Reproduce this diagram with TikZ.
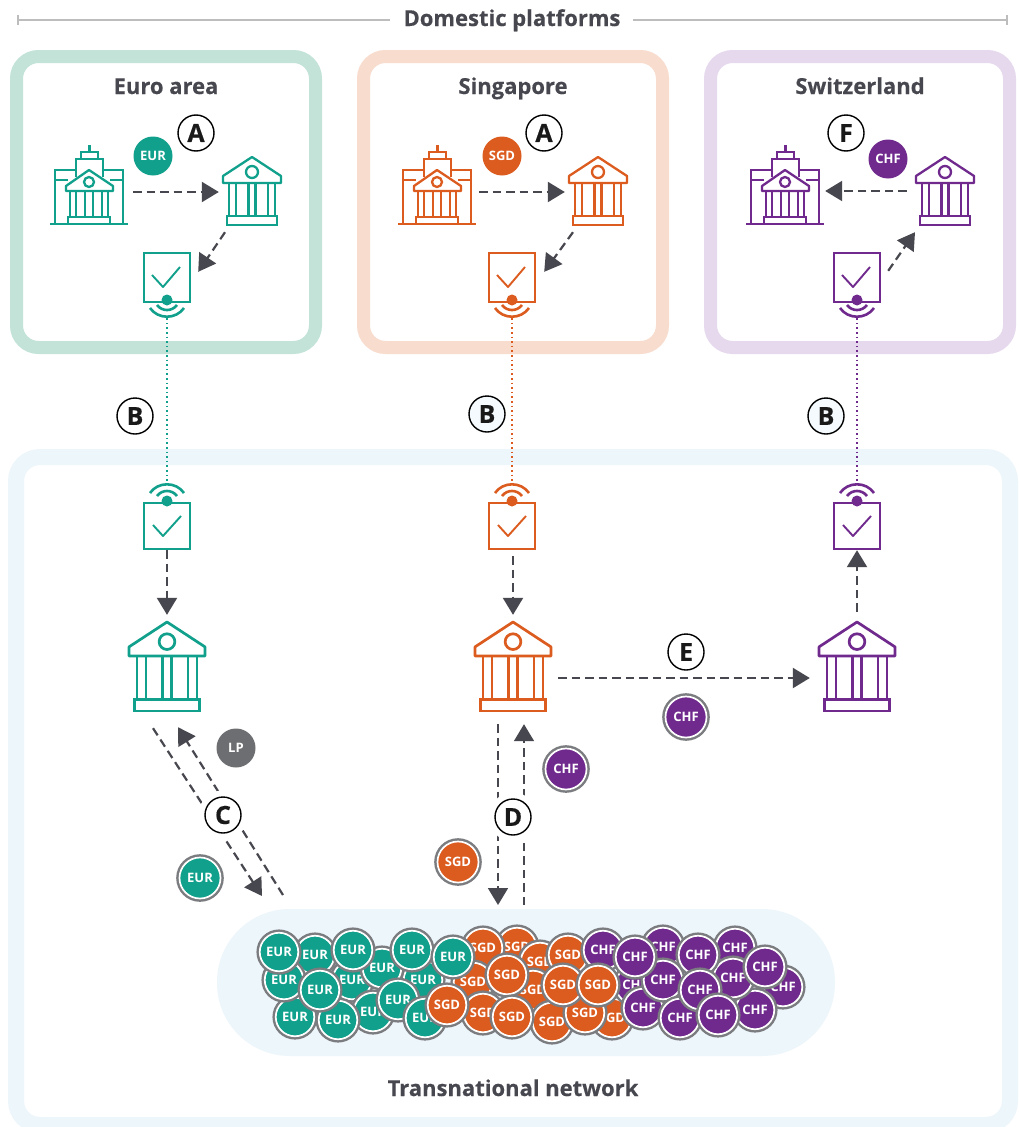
\documentclass[tikz,border=0pt]{standalone}
\usepackage{fontspec}
\setmainfont{Open Sans}
\newfontfamily\heavy{Open Sans}[BoldFeatures={FakeBold=0.35}]
\usetikzlibrary{arrows.meta,calc}
\definecolor{eurc}{HTML}{10A08B}
\definecolor{sgdc}{HTML}{DC5B1E}
\definecolor{chfc}{HTML}{702A8E}
\definecolor{lpc}{HTML}{6D6E71}
\definecolor{ink}{HTML}{47474F}
\definecolor{ringc}{HTML}{7B7C7F}
\definecolor{frameE}{HTML}{C3E3D9}
\definecolor{frameS}{HTML}{F8DCCE}
\definecolor{frameC}{HTML}{E6D9EE}
\definecolor{frameT}{HTML}{EDF6FB}
\definecolor{ruleg}{HTML}{BDBDBD}
\tikzset{
  x=1pt,y=-1pt,
  framebox/.style={line width=13pt,rounded corners=22pt},
  title/.style={font=\fontsize{22}{24}\selectfont\heavy\bfseries,text=ink,inner sep=0pt,anchor=base},
  letter/.style={circle,draw=black,line width=1.4pt,fill=white,minimum size=36pt,inner sep=0pt,text=black!90,font=\fontsize{25}{27}\selectfont\heavy\bfseries},
  haloletter/.style={letter,preaction={draw=white,line width=13pt}},
  tintletter/.style={letter,fill=frameT!60},
  plaincoin/.style={circle,fill=#1,minimum size=39pt,inner sep=0pt,text=white,font=\fontsize{13}{14}\selectfont\bfseries},
  ringcoin/.style={circle,fill=#1,draw=white,line width=1.7pt,preaction={draw=ringc,line width=6.6pt},minimum size=41pt,inner sep=0pt,text=white,font=\fontsize{13}{14}\selectfont\bfseries},
  pilecoin/.style={ringcoin=#1,minimum size=38.5pt},
  flow/.style={draw=ink,line width=2.2pt,dash pattern=on 8.5pt off 5pt,-{Triangle[length=17pt,width=20pt,color=ink]}},
  radio/.style={line width=1.5pt,dash pattern=on 1.6pt off 3pt},
  bankicon/.pic={
    \path[pic actions,line join=round] (-29,19)--(0,0)--(29,19)--(29,26)--(-29,26)--cycle;
    \path[pic actions] (0,15) circle (6);
    \path[pic actions] (-23,26)--(-23,59) (-16,26)--(-16,59) (-3.5,26)--(-3.5,59) (3.5,26)--(3.5,59) (16,26)--(16,59) (23,26)--(23,59);
    \path[pic actions] (-25,59) rectangle (25,68);
  },
  cbicon/.pic={
    \path[pic actions] (-39,0)--(39,0);
    \path[pic actions] (-34,0)--(-34,-54)--(-13,-54) (14,-54)--(34,-54)--(34,0);
    \path[pic actions] (-34,-44)--(-21,-44) (21,-44)--(34,-44);
    \path[pic actions] (-13,-47)--(-13,-65)--(14,-65)--(14,-47);
    \path[pic actions] (-8,-65)--(-8,-72)--(9,-72)--(9,-65);
    \path[pic actions] (0.5,-72)--(0.5,-79);
    \path[pic actions,line join=round,fill=white] (-23,-38)--(0,-54)--(24,-38)--(24,-33)--(-23,-33)--cycle;
    \path[pic actions] (0,-42) circle (5);
    \path[pic actions] (-19,-33)--(-19,-7) (-13,-33)--(-13,-7) (-4,-33)--(-4,-7) (4,-33)--(4,-7) (13,-33)--(13,-7) (19,-33)--(19,-7);
    \path[pic actions] (-21,-7) rectangle (21,0);
  },
  devdown/.pic={
    \path[pic actions] (-23,2) rectangle (23,-47);
    \path[pic actions,line join=round] (-15,-25)--(-4,-13)--(13,-33);
    \path[pic actions,line width=2.6pt] (-10,5) .. controls (-5,11.7) and (5,11.7) .. (10,5);
    \path[pic actions,line width=2.6pt] (-17,8) .. controls (-9,19.6) and (9,19.6) .. (17,8);
  },
  devup/.pic={
    \path[pic actions] (-23,2) rectangle (23,48);
    \path[pic actions,line join=round] (-14,24)--(-4,35)--(14,15);
    \path[pic actions,line width=2.6pt] (-10,-5) .. controls (-5,-11.7) and (5,-11.7) .. (10,-5);
    \path[pic actions,line width=2.6pt] (-17,-8) .. controls (-9,-19.6) and (9,-19.6) .. (17,-8);
  },
}
\begin{document}
\begin{tikzpicture}
\useasboundingbox (0,0) rectangle (1019,1127);
\fill[white] (0,0) rectangle (1019,1127);
% top rule
\node[title] (domestic) at (512,26) {Domestic platforms};
\coordinate (ruleL) at (18,20);
\coordinate (ruleR) at (1007,20);
\draw[ruleg,line width=1.6pt] (ruleL) -- (390,20);
\draw[ruleg,line width=1.6pt] (633,20) -- (ruleR);
\draw[ruleg,line width=1.6pt] (18,15) -- (18,25) (1007,15) -- (1007,25);
% frames
\draw[frameE,framebox] (16.5,56.5) rectangle (315.5,347.5);
\draw[frameS,framebox] (363.5,56.5) rectangle (662.5,347.5);
\draw[frameC,framebox] (710.5,56.5) rectangle (1009.5,347.5);
\draw[frameT,line width=16pt,rounded corners=24pt] (16,457) rectangle (1010,1125);
\fill[frameT,rounded corners=73pt] (217,909) rectangle (835,1056);
% titles
\node[title] (tE) at (166,94) {Euro area};
\node[title] (tS) at (513,94) {Singapore};
\node[title] (tC) at (860,94) {Switzerland};
\node[title] (tT) at (513,1096) {Transnational network};

% icon holders
\foreach \n/\x/\y/\w/\h in {cbE/89/185/78/79,cbS/437/185/78/79,cbC/785/185/78/79,
   bkE/252/191/58/68,bkS/598/191/58/68,bkC/945/191/58/68,
   dvE/167/284/46/66,dvS/512/284/46/66,dvC/857/284/46/66,
   duE/167/517/46/66,duS/512/517/46/66,duC/857/517/46/66,
   blE/167/667/78/90,blS/513/667/78/90,blC/857/667/78/90}
  \node[inner sep=0pt,minimum width=\w pt,minimum height=\h pt] (\n) at (\x,\y) {};

% icons small
\pic[draw=eurc,line width=2.3pt] at (89,224) {cbicon};
\pic[draw=sgdc,line width=2.3pt] at (437,224) {cbicon};
\pic[draw=chfc,line width=2.3pt] at (785,224) {cbicon};
\pic[draw=eurc,line width=2.3pt] at (252,157) {bankicon};
\pic[draw=sgdc,line width=2.3pt] at (598,157) {bankicon};
\pic[draw=chfc,line width=2.3pt] at (945,157) {bankicon};
\pic[draw=eurc,line width=1.9pt] at (167,300) {devdown};
\pic[draw=sgdc,line width=1.9pt] at (512,300) {devdown};
\pic[draw=chfc,line width=1.9pt] at (857,300) {devdown};
\pic[draw=eurc,line width=1.9pt] at (167,501) {devup};
\pic[draw=sgdc,line width=1.9pt] at (512,501) {devup};
\pic[draw=chfc,line width=1.9pt] at (857,501) {devup};
\pic[draw=eurc,line width=2.7pt,scale=1.31] at (167,622) {bankicon};
\pic[draw=sgdc,line width=2.7pt,scale=1.31] at (513,622) {bankicon};
\pic[draw=chfc,line width=2.7pt,scale=1.31] at (857,622) {bankicon};
\foreach \x/\y/\c in {167/300/eurc,512/300/sgdc,857/300/chfc,167/501/eurc,512/501/sgdc,857/501/chfc}
  \fill[\c] (\x,\y) circle (5.5);

% radio links
\draw[radio,eurc] ($(dvE.south)+(0,1)$) -- ($(duE.north)+(0,-2)$);
\draw[radio,sgdc] ($(dvS.south)+(0,1)$) -- ($(duS.north)+(0,-2)$);
\draw[radio,chfc] ($(dvC.south)+(0,1)$) -- ($(duC.north)+(0,-2)$);

% domestic arrows
\draw[flow] ($(cbE.east)+(5,7)$) -- ($(bkE.west)+(-4,1)$);
\draw[flow] ($(bkE.south)+(-27,7)$) -- ($(dvE.north east)+(8,21)$);
\draw[flow] ($(cbS.east)+(3,7)$) -- ($(bkS.west)+(-4,1)$);
\draw[flow] ($(bkS.south)+(-25,7)$) -- ($(dvS.north east)+(9,21)$);
\draw[flow] ($(bkC.west)+(-9,0)$) -- ($(cbC.east)+(1,6)$);
\draw[flow] ($(dvC.north east)+(8,20)$) -- ($(bkC.south)+(-30,7)$);

% transnational arrows
\draw[flow] (duE.south) -- ($(blE.north)+(0,-7)$);
\draw[flow] ($(duS.south)+(1,6)$) -- ($(blS.north)+(0,-7)$);
\draw[flow] ($(blC.north)+(0,-10)$) -- (duC.south);
\draw[flow] ($(blS.east)+(6,11)$) -- ($(blC.west)+(-8,11)$);
\draw[flow] ($(blE.south)+(-14,16)$) -- (262,896);
\draw[flow] (283,895) -- ($(blE.south)+(11,15)$);
\draw[flow,line width=1.8pt] ($(blS.south)+(-15,12)$) -- (498,905);
\draw[flow,line width=1.8pt] (524,905) -- ($(blS.south)+(11,12)$);

% labels
\node[letter] (lA1) at (196,133) {A};
\node[letter] (lA2) at (544,133) {A};
\node[letter] (lF) at (846,133) {F};
\node[letter] (lB1) at (135,416) {B};
\node[tintletter] (lB2) at (487,414) {B};
\node[tintletter] (lB3) at (826,416) {B};
\node[haloletter] (lC) at (223,815) {C};
\node[haloletter] (lD) at (513,817) {D};
\node[letter] (lE) at (686,652) {E};

% coins
\node[plaincoin=eurc] (cE) at (153,156) {EUR};
\node[plaincoin=sgdc] (cS) at (502,156) {SGD};
\node[plaincoin=chfc] (cC) at (888,159) {CHF};
\node[plaincoin=lpc] (cL) at (236,748) {LP};
\node[ringcoin=eurc] (mE) at (200,878) {EUR};
\node[ringcoin=chfc] (mC1) at (686,717) {CHF};
\node[ringcoin=chfc] (mC2) at (566,769) {CHF};
\node[ringcoin=sgdc] (mS) at (458,862) {SGD};

% pile
\foreach \x/\y [count=\i] in {315/955,352/980,423/980,382/968,373/1012,338/1020,295/1017,284/980,320/990,279/952,353/950,412/950,398/1000,425/1018}
  \node[pilecoin=eurc] (pe\i) at (\x,\y) {EUR};
\foreach \x/\y [count=\i] in {517/947,483/948,540/962,533/990,473/982,568/955,612/1018,552/1022,585/1013,563/985,507/975,483/1013,512/1017}
  \node[pilecoin=sgdc] (ps\i) at (\x,\y) {SGD};
\node[pilecoin=eurc] (pe15) at (453,957) {EUR};
\node[pilecoin=sgdc] (ps14) at (447,1005) {SGD};
\foreach \x/\y [count=\i] in {783/987,603/950,635/985,643/1008,663/947,735/948,755/1010,733/978,765/967,663/980,680/1018,698/955,700/990,718/1015,635/957}
  \node[pilecoin=chfc] (pc\i) at (\x,\y) {CHF};
\node[pilecoin=sgdc] (ps15) at (598,985) {SGD};
\end{tikzpicture}
\end{document}
